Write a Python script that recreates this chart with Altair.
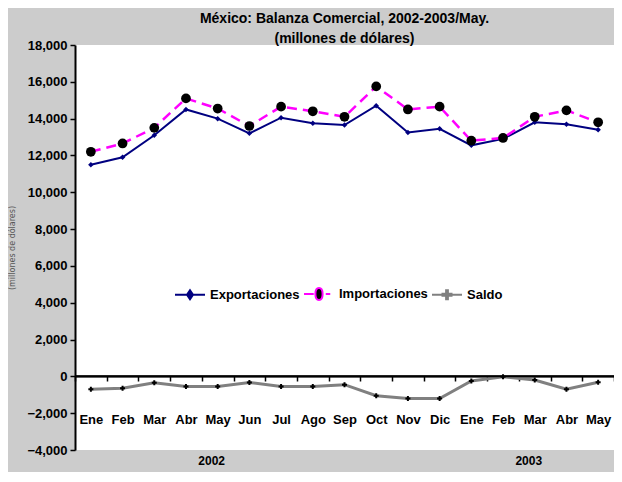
import altair as alt
import pandas as pd

meses = ["Ene", "Feb", "Mar", "Abr", "May", "Jun", "Jul", "Ago", "Sep", "Oct", "Nov", "Dic",
         "Ene", "Feb", "Mar", "Abr", "May"]
anios = [2002] * 12 + [2003] * 5
exportaciones = [11500, 11900, 13100, 14500, 14000, 13200, 14050, 13750, 13650, 14700, 13250, 13450,
                 12550, 12900, 13800, 13700, 13400]
importaciones = [12200, 12650, 13500, 15100, 14550, 13600, 14650, 14400, 14100, 15750, 14500, 14650,
                 12800, 12950, 14100, 14450, 13800]
saldo = [-700, -650, -350, -550, -550, -330, -550, -550, -450, -1050, -1200, -1200,
         -250, -20, -200, -700, -320]
series = ["Exportaciones", "Importaciones", "Saldo"]
y_ticks = list(range(-4000, 18001, 2000))
year_labels = ["2002", "2003"]
year_at = ["May-2002", "Mar-2003"]

cats = [f"{m}-{a}" for m, a in zip(meses, anios)]
rows = []
for s, vals in zip(series, [exportaciones, importaciones, saldo]):
    for c, v in zip(cats, vals):
        rows.append({"mes": c, "serie": s, "valor": v})
df = pd.DataFrame(rows)
df_years = pd.DataFrame({"mes": year_at, "anio": year_labels})
df_leg = pd.DataFrame({"leyenda": series})

W, H = 539, 405
OFF = -round(H * 4 / 22)
NARROW = "Liberation Sans Narrow, Liberation Sans, Arial"
YSCALE = alt.Scale(domain=[-4000, 18000], nice=False, zero=False)

x = alt.X("mes:N", sort=cats, scale=alt.Scale(paddingInner=0, paddingOuter=0),
          axis=alt.Axis(title=None, orient="bottom", offset=OFF, labelAngle=0,
                        labelExpr="split(datum.label, '-')[0]",
                        domainColor="black", domainWidth=2, tickColor="black", tickWidth=1.5,
                        tickSize=5, tickBand="extent", labelPadding=32,
                        labelFont=NARROW, labelFontSize=13, labelFontWeight="bold",
                        labelColor="black", labelOverlap=False))
y = alt.Y("valor:Q", scale=YSCALE,
          axis=alt.Axis(title="(millones de dólares)", values=y_ticks, format=",d",
                        grid=False, domainColor="black", domainWidth=2, tickColor="black",
                        tickWidth=1.5, tickSize=5, labelFont=NARROW, labelFontSize=13,
                        labelFontWeight="bold", labelColor="black", labelPadding=3,
                        labelOverlap=False, labelFlush=False,
                        titleFont="DejaVu Sans", titleFontSize=8, titleFontWeight="normal",
                        titleColor="#555555", titlePadding=10))

base = alt.Chart(df).encode(x=x, y=y)
f_exp = alt.datum.serie == "Exportaciones"
f_imp = alt.datum.serie == "Importaciones"
f_sal = alt.datum.serie == "Saldo"

l_sal = base.transform_filter(f_sal).mark_line(color="#808080", strokeWidth=3)
l_exp = base.transform_filter(f_exp).mark_line(color="#000080", strokeWidth=2)
l_imp = base.transform_filter(f_imp).mark_line(color="#FF00FF", strokeWidth=2.5, strokeDash=[10, 6])

p_exp = base.transform_filter(f_exp).mark_point(
    shape="diamond", filled=True, color="#000080", size=30, opacity=1)
p_imp = base.transform_filter(f_imp).mark_point(
    shape="circle", filled=True, color="#000000", size=95, opacity=1)
p_sal = base.transform_filter(f_sal).mark_point(
    shape="cross", filled=True, color="#000000", size=25, opacity=1)

leg_paths = [
    "M-1,0H1M0,-0.3L0.2,0L0,0.3L-0.2,0Z",
    "M-1,0H-0.35M0.45,0H0.75M0,-0.4C0.32,-0.4,0.32,0.4,0,0.4C-0.32,0.4,-0.32,-0.4,0,-0.4Z",
    "M-1,0H1M-0.06,-0.3H0.06V-0.06H0.3V0.06H0.06V0.3H-0.06V0.06H-0.3V-0.06H-0.06Z",
]
leg = alt.Legend(title=None, orient="none", legendX=99, legendY=233, direction="horizontal",
                 symbolSize=900, symbolStrokeWidth=2, symbolOpacity=1,
                 labelFont="Liberation Sans", labelFontSize=13, labelFontWeight="bold",
                 labelColor="black", labelOffset=4, columnPadding=0)
legend_layer = alt.Chart(df_leg).mark_point(filled=True, opacity=0, strokeWidth=2).encode(
    x=alt.value(10), y=alt.value(10),
    shape=alt.Shape("leyenda:N", scale=alt.Scale(domain=series, range=leg_paths), legend=leg),
    fill=alt.Fill("leyenda:N", scale=alt.Scale(domain=series, range=["#000080", "#000000", "#000000"]),
                  legend=leg),
    stroke=alt.Stroke("leyenda:N", scale=alt.Scale(domain=series, range=["#000080", "#FF00FF", "#808080"]),
                      legend=leg),
)

zero = alt.Chart(pd.DataFrame({"valor": [0]})).mark_rule(color="black", strokeWidth=2).encode(y=y)

years = alt.Chart(df_years).mark_text(font="Liberation Sans", fontSize=12, fontWeight="bold",
                                      color="black", baseline="top", dx=-6).encode(
    x=alt.X("mes:N", sort=cats), y=alt.value(H + 6), text="anio:N")

chart = alt.layer(l_sal, l_exp, l_imp, zero, p_exp, p_imp, p_sal, legend_layer, years).properties(
    width=W, height=H,
    title=alt.TitleParams(
        text=["México: Balanza Comercial, 2002-2003/May.",
              "(millones de dólares)" + "\u00a0" * 20],
        font=NARROW, fontSize=14, fontWeight="bold", color="black",
        anchor="middle", lineHeight=20, offset=-7),
    background="#cccccc",
    padding={"left": 67, "top": 37, "right": 0, "bottom": 22},
    autosize=alt.AutoSizeParams(type="none"),
).configure_view(fill="white", stroke=None)

chart.save("out.html", embed_options={"renderer": "svg", "actions": False})
